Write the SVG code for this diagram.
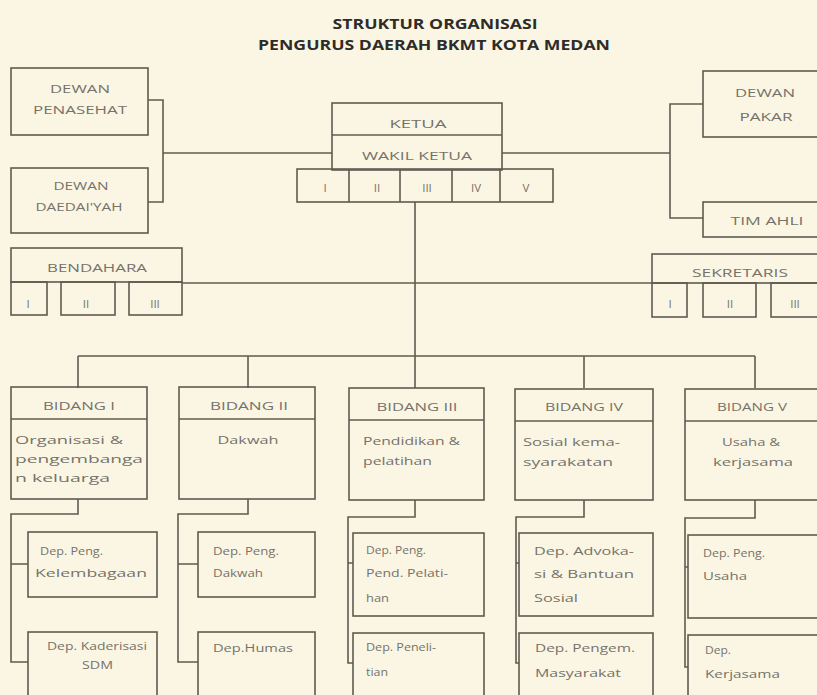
<svg xmlns="http://www.w3.org/2000/svg" width="817" height="695" viewBox="0 0 817 695">
<style>
.bg{fill:#fbf6e3}
.b{fill:none;stroke:#5f5b52;stroke-width:1.6}
.c{fill:none;stroke:#5f5b52;stroke-width:1.6}
.t{font-family:"Open Sans","Liberation Sans",sans-serif;font-size:11.5px;fill:#75726a}
.m{text-anchor:middle}
.h{font-family:"Open Sans","Liberation Sans",sans-serif;font-size:14px;font-weight:bold;fill:#2e2c28;text-anchor:middle}
</style>
<rect class="bg" x="0" y="0" width="817" height="695"/>
<g id="title">
<text class="h" x="435" y="29" textLength="205" lengthAdjust="spacingAndGlyphs">STRUKTUR ORGANISASI</text>
<text class="h" x="434" y="50" textLength="352" lengthAdjust="spacingAndGlyphs">PENGURUS DAERAH BKMT KOTA MEDAN</text>
</g>
<g id="connectors">
<path class="c" d="M148,100 H163 V202 H148 M163,153 H332"/>
<path class="c" d="M502,153 H670 M703,104 H670 V218 H703"/>
<path class="c" d="M182,283 H652"/>
<path class="c" d="M415,202 V356 M78,356 H755"/>
<path class="c" d="M78,356 V388 M248,356 V388 M415,356 V388 M584,356 V388 M755,356 V388"/>
<path class="c" d="M78,499 V514 H11 V662 H28 M11,564 H28"/>
<path class="c" d="M248,499 V514 H178 V662 H198 M178,564 H198"/>
<path class="c" d="M415,500 V517 H348 V663 H353 M348,563 H353"/>
<path class="c" d="M584,500 V517 H516 V663 H519 M516,563 H519"/>
<path class="c" d="M755,500 V518 H685 V667 H688 M685,567 H688"/>
</g>
<g id="dewan-penasehat">
<rect class="b" x="11" y="68" width="137" height="67"/>
<text class="t m" x="80" y="93" textLength="60" lengthAdjust="spacingAndGlyphs">DEWAN</text>
<text class="t m" x="80" y="114" textLength="94" lengthAdjust="spacingAndGlyphs">PENASEHAT</text>
</g>
<g id="dewan-daedaiyah">
<rect class="b" x="11" y="168" width="137" height="65"/>
<text class="t m" x="81" y="190" textLength="55" lengthAdjust="spacingAndGlyphs">DEWAN</text>
<text class="t m" x="79" y="211" textLength="87" lengthAdjust="spacingAndGlyphs">DAEDAI'YAH</text>
</g>
<g id="bendahara">
<rect class="b" x="11" y="248" width="171" height="34"/>
<text class="t m" x="97" y="272" textLength="100" lengthAdjust="spacingAndGlyphs">BENDAHARA</text>
<rect class="b" x="11" y="282" width="36" height="33"/>
<rect class="b" x="61" y="282" width="54" height="33"/>
<rect class="b" x="129" y="282" width="53" height="33"/>
<text class="t m" x="28" y="308" font-size="12.5">I</text>
<text class="t m" x="86" y="308" font-size="12.5">II</text>
<text class="t m" x="155" y="308" font-size="12.5">III</text>
</g>
<g id="ketua">
<rect class="b" x="332" y="103" width="170" height="67"/>
<path class="b" d="M332,135 H502"/>
<text class="t m" x="418" y="128" textLength="57" lengthAdjust="spacingAndGlyphs">KETUA</text>
<text class="t m" x="417" y="160" textLength="110" lengthAdjust="spacingAndGlyphs">WAKIL KETUA</text>
<rect class="b" x="297" y="169" width="256" height="33"/>
<path class="b" d="M349,169 V202 M400,169 V202 M452,169 V202 M500,169 V202"/>
<text class="t m" x="325" y="192" font-size="12.5">I</text>
<text class="t m" x="377" y="192" font-size="12.5">II</text>
<text class="t m" x="427" y="192" font-size="12.5">III</text>
<text class="t m" x="476" y="192" font-size="12.5">IV</text>
<text class="t m" x="526" y="192" font-size="12.5">V</text>
</g>
<g id="dewan-pakar">
<rect class="b" x="703" y="71" width="130" height="66"/>
<text class="t m" x="765" y="97" textLength="60" lengthAdjust="spacingAndGlyphs">DEWAN</text>
<text class="t m" x="766" y="121" textLength="53" lengthAdjust="spacingAndGlyphs">PAKAR</text>
</g>
<g id="tim-ahli">
<rect class="b" x="703" y="202" width="130" height="35"/>
<text class="t m" x="767" y="225" textLength="73" lengthAdjust="spacingAndGlyphs">TIM AHLI</text>
</g>
<g id="sekretaris">
<rect class="b" x="652" y="254" width="180" height="29"/>
<text class="t m" x="740" y="277" textLength="96" lengthAdjust="spacingAndGlyphs">SEKRETARIS</text>
<rect class="b" x="652" y="283" width="35" height="34"/>
<rect class="b" x="703" y="283" width="53" height="34"/>
<rect class="b" x="771" y="283" width="60" height="34"/>
<text class="t m" x="670" y="308" font-size="12.5">I</text>
<text class="t m" x="730" y="308" font-size="12.5">II</text>
<text class="t m" x="795" y="308" font-size="12.5">III</text>
</g>
<g id="bidang-1">
<rect class="b" x="11" y="387" width="136" height="112"/>
<path class="b" d="M11,419 H147"/>
<text class="t m" x="79" y="410" textLength="72" lengthAdjust="spacingAndGlyphs">BIDANG I</text>
<text class="t" x="15" y="444" textLength="108" lengthAdjust="spacingAndGlyphs">Organisasi &amp;</text>
<text class="t" x="15" y="463" textLength="128" lengthAdjust="spacingAndGlyphs">pengembanga</text>
<text class="t" x="15" y="482" textLength="95" lengthAdjust="spacingAndGlyphs">n keluarga</text>
</g>
<g id="bidang-2">
<rect class="b" x="179" y="387" width="136" height="112"/>
<path class="b" d="M179,419 H315"/>
<text class="t m" x="249" y="410" textLength="78" lengthAdjust="spacingAndGlyphs">BIDANG II</text>
<text class="t m" x="248" y="444" textLength="61" lengthAdjust="spacingAndGlyphs">Dakwah</text>
</g>
<g id="bidang-3">
<rect class="b" x="349" y="388" width="135" height="112"/>
<path class="b" d="M349,420 H484"/>
<text class="t m" x="417" y="411" textLength="81" lengthAdjust="spacingAndGlyphs">BIDANG III</text>
<text class="t" x="363" y="445" textLength="97" lengthAdjust="spacingAndGlyphs">Pendidikan &amp;</text>
<text class="t" x="363" y="465" textLength="69" lengthAdjust="spacingAndGlyphs">pelatihan</text>
</g>
<g id="bidang-4">
<rect class="b" x="515" y="389" width="138" height="111"/>
<path class="b" d="M515,421 H653"/>
<text class="t m" x="584" y="411" textLength="78" lengthAdjust="spacingAndGlyphs">BIDANG IV</text>
<text class="t" x="523" y="446" textLength="97" lengthAdjust="spacingAndGlyphs">Sosial kema-</text>
<text class="t" x="523" y="466" textLength="90" lengthAdjust="spacingAndGlyphs">syarakatan</text>
</g>
<g id="bidang-5">
<rect class="b" x="685" y="389" width="140" height="111"/>
<path class="b" d="M685,421 H825"/>
<text class="t m" x="752" y="411" textLength="70" lengthAdjust="spacingAndGlyphs">BIDANG V</text>
<text class="t m" x="751" y="446" textLength="58" lengthAdjust="spacingAndGlyphs">Usaha &amp;</text>
<text class="t m" x="753" y="466" textLength="80" lengthAdjust="spacingAndGlyphs">kerjasama</text>
</g>
<g id="dep-peng-kelembagaan">
<rect class="b" x="28" y="532" width="129" height="65"/>
<text class="t" x="40" y="555" textLength="63" lengthAdjust="spacingAndGlyphs">Dep. Peng.</text>
<text class="t" x="35" y="577" textLength="112" lengthAdjust="spacingAndGlyphs">Kelembagaan</text>
</g>
<g id="dep-kaderisasi-sdm">
<rect class="b" x="28" y="632" width="129" height="80"/>
<text class="t" x="47" y="650" textLength="100" lengthAdjust="spacingAndGlyphs">Dep. Kaderisasi</text>
<text class="t" x="82" y="669" textLength="31" lengthAdjust="spacingAndGlyphs">SDM</text>
</g>
<g id="dep-peng-dakwah">
<rect class="b" x="198" y="532" width="117" height="65"/>
<text class="t" x="213" y="555" textLength="66" lengthAdjust="spacingAndGlyphs">Dep. Peng.</text>
<text class="t" x="213" y="577" textLength="50" lengthAdjust="spacingAndGlyphs">Dakwah</text>
</g>
<g id="dep-humas">
<rect class="b" x="198" y="632" width="117" height="80"/>
<text class="t" x="213" y="652" textLength="80" lengthAdjust="spacingAndGlyphs">Dep.Humas</text>
</g>
<g id="dep-peng-pend-pelatihan">
<rect class="b" x="353" y="533" width="131" height="83"/>
<text class="t" x="366" y="554" textLength="60" lengthAdjust="spacingAndGlyphs">Dep. Peng.</text>
<text class="t" x="366" y="577" textLength="82" lengthAdjust="spacingAndGlyphs">Pend. Pelati-</text>
<text class="t" x="366" y="602" textLength="23" lengthAdjust="spacingAndGlyphs">han</text>
</g>
<g id="dep-penelitian">
<rect class="b" x="353" y="633" width="131" height="80"/>
<text class="t" x="366" y="651" textLength="70" lengthAdjust="spacingAndGlyphs">Dep. Peneli-</text>
<text class="t" x="366" y="676" textLength="22" lengthAdjust="spacingAndGlyphs">tian</text>
</g>
<g id="dep-advokasi">
<rect class="b" x="519" y="533" width="134" height="83"/>
<text class="t" x="534" y="555" textLength="100" lengthAdjust="spacingAndGlyphs">Dep. Advoka-</text>
<text class="t" x="534" y="578" textLength="100" lengthAdjust="spacingAndGlyphs">si &amp; Bantuan</text>
<text class="t" x="534" y="602" textLength="44" lengthAdjust="spacingAndGlyphs">Sosial</text>
</g>
<g id="dep-pengem-masyarakat">
<rect class="b" x="519" y="633" width="134" height="80"/>
<text class="t" x="535" y="652" textLength="100" lengthAdjust="spacingAndGlyphs">Dep. Pengem.</text>
<text class="t" x="535" y="677" textLength="86" lengthAdjust="spacingAndGlyphs">Masyarakat</text>
</g>
<g id="dep-peng-usaha">
<rect class="b" x="688" y="535" width="140" height="83"/>
<text class="t" x="703" y="557" textLength="62" lengthAdjust="spacingAndGlyphs">Dep. Peng.</text>
<text class="t" x="703" y="580" textLength="44" lengthAdjust="spacingAndGlyphs">Usaha</text>
</g>
<g id="dep-kerjasama">
<rect class="b" x="688" y="635" width="140" height="80"/>
<text class="t" x="705" y="654" textLength="26" lengthAdjust="spacingAndGlyphs">Dep.</text>
<text class="t" x="705" y="678" textLength="75" lengthAdjust="spacingAndGlyphs">Kerjasama</text>
</g>
</svg>
